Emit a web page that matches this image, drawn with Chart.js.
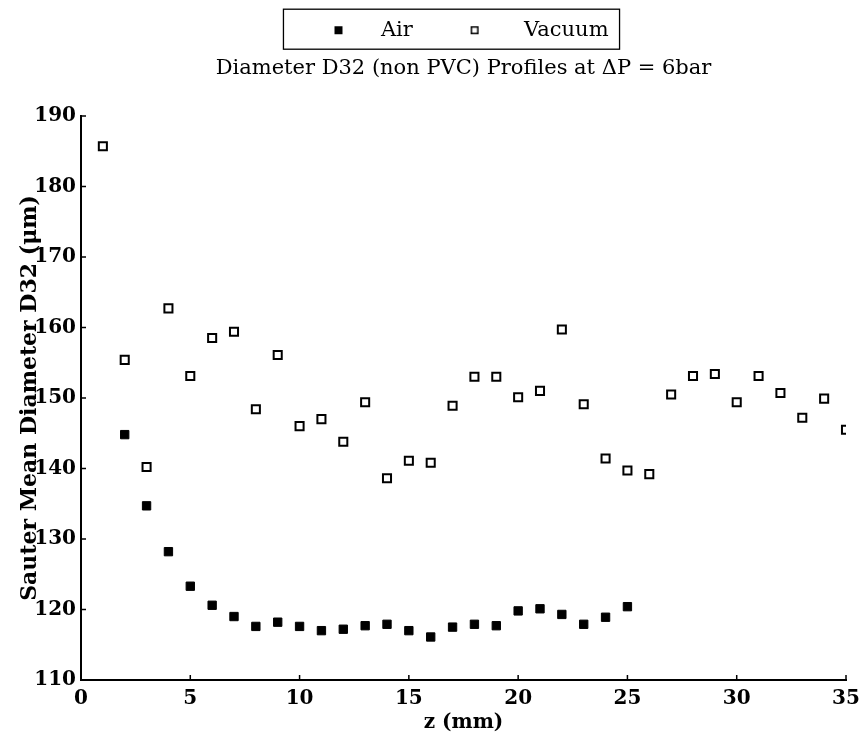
<!DOCTYPE html>
<html>
<head>
<meta charset="utf-8">
<title>Diameter D32 profiles</title>
<script src="https://cdn.jsdelivr.net/npm/chart.js@4.4.1/dist/chart.umd.min.js"></script>
<style>
    html, body { margin: 0; padding: 0; background: #fff; }
    canvas { display: block; }
</style>
</head>
<body>
<canvas id="d32Chart" width="862" height="737"></canvas>
<script>
// values
const airZ = [2, 3, 4, 5, 6, 7, 8, 9, 10, 11, 12, 13, 14, 15, 16, 17, 18, 19, 20, 21, 22, 23, 24, 25];
const airD32 = [144.8, 134.7, 128.2, 123.3, 120.6, 119.0, 117.6, 118.2, 117.6, 117.0, 117.2, 117.7,
    117.9, 117.0, 116.1, 117.5, 117.9, 117.7, 119.8, 120.1, 119.3, 117.9, 118.9, 120.4];

const vacuumZ = [1, 2, 3, 4, 5, 6, 7, 8, 9, 10, 11, 12, 13, 14, 15, 16, 17, 18, 19, 20, 21, 22, 23, 24, 25,
    26, 27, 28, 29, 30, 31, 32, 33, 34, 35];
const vacuumD32 = [185.7, 155.4, 140.2, 162.7, 153.1, 158.5, 159.4, 148.4, 156.1, 146.0, 147.0, 143.8,
    149.4, 138.6, 141.1, 140.8, 148.9, 153.0, 153.0, 150.1, 151.0, 159.7, 149.1, 141.4, 139.7, 139.2,
    150.5, 153.1, 153.4, 149.4, 153.1, 150.7, 147.2, 149.9, 145.5];

const xTicks = { min: 0, max: 35, step: 5 };
const yTicks = { min: 110, max: 190, step: 10 };

const seriesNames = ['Air', 'Vacuum'];
const titleText = 'Diameter D32 (non PVC) Profiles at \u0394P = 6bar';
const xTitle = 'z (mm)';
const yTitle = 'Sauter Mean Diameter D32 (\u03bcm)';

const serif = "'DejaVu Serif', 'Liberation Serif', serif";

function toPoints(xs, ys) {
    return xs.map((x, i) => ({ x: x, y: ys[i] }));
}

// legend markers: small squares, nudged left inside a wider canvas
function makeMarker(filled, shift) {
    const c = document.createElement('canvas');
    c.width = 40;
    c.height = 10;
    const g = c.getContext('2d');
    const left = 20 + shift - 4;
    if (filled) {
        g.fillStyle = '#000';
        g.fillRect(left, 1, 8, 8);
    } else {
        g.strokeStyle = '#000';
        g.lineWidth = 1.5;
        g.strokeRect(left + 0.75, 1.75, 6.5, 6.5);
    }
    return c;
}
const legendMarkers = [makeMarker(true, -6), makeMarker(false, -13)];

// ticks drawn inward from the axes, plus a frame round the legend
const axisExtras = {
    id: 'axisExtras',
    afterDraw(chart) {
        const ctx = chart.ctx;
        const area = chart.chartArea;
        const xs = chart.scales.x;
        const ys = chart.scales.y;
        ctx.save();
        ctx.strokeStyle = '#000';
        ctx.lineWidth = 1.5;
        ctx.beginPath();
        xs.ticks.forEach(t => {
            const px = xs.getPixelForValue(t.value);
            ctx.moveTo(px, area.bottom);
            ctx.lineTo(px, area.bottom - 5);
        });
        ys.ticks.forEach(t => {
            const py = ys.getPixelForValue(t.value);
            ctx.moveTo(area.left, py);
            ctx.lineTo(area.left + 5, py);
        });
        ctx.stroke();

        const boxes = chart.legend.legendHitBoxes;
        if (boxes && boxes.length) {
            const first = boxes[0];
            const last = boxes[boxes.length - 1];
            const midY = first.top + first.height / 2;
            const x0 = first.left - 35;
            const x1 = last.left + last.width + 11;
            ctx.lineWidth = 1.3;
            ctx.strokeRect(x0, midY - 21, x1 - x0, 40);
        }
        ctx.restore();
    }
};

const ctx = document.getElementById('d32Chart').getContext('2d');
const chart = new Chart(ctx, {
    type: 'scatter',
    data: {
        datasets: [{
            label: seriesNames[0],
            data: toPoints(airZ, airD32),
            pointStyle: 'rect',
            pointRadius: 5.9,
            borderWidth: 1,
            borderColor: '#000',
            backgroundColor: '#000'
        }, {
            label: seriesNames[1],
            data: toPoints(vacuumZ, vacuumD32),
            pointStyle: 'rect',
            pointRadius: 5.7,
            borderWidth: 2,
            borderColor: '#000',
            backgroundColor: '#fff'
        }]
    },
    options: {
        responsive: false,
        animation: false,
        devicePixelRatio: 1,
        // negative top so the wide legend padding does not push everything down
        layout: { padding: { left: 0, right: 16, top: -29, bottom: 0 } },
        plugins: {
            tooltip: { enabled: false },
            legend: {
                position: 'top',
                fullSize: false,
                weight: 3000,
                labels: {
                    color: '#000',
                    font: { family: serif, size: 21 },
                    usePointStyle: true,
                    pointStyleWidth: 52,
                    padding: 48.7,
                    generateLabels(chart) {
                        return chart.data.datasets.map((ds, i) => ({
                            text: ds.label,
                            datasetIndex: i,
                            pointStyle: legendMarkers[i],
                            fillStyle: ds.backgroundColor,
                            strokeStyle: ds.borderColor,
                            lineWidth: 0,
                            fontColor: '#000',
                            hidden: false
                        }));
                    }
                }
            },
            title: {
                display: true,
                fullSize: false,
                text: titleText,
                color: '#000',
                font: { family: serif, size: 21, weight: 'normal' },
                padding: { top: 5.6, bottom: 34.4 }
            }
        },
        scales: {
            x: {
                type: 'linear',
                min: xTicks.min,
                max: xTicks.max,
                afterFit(scale) {
                    scale.height = 57;
                    scale.paddingRight = 0;
                    scale.paddingLeft = 0;
                },
                border: { display: true, color: '#000', width: 2 },
                grid: { drawOnChartArea: false, drawTicks: false },
                ticks: {
                    stepSize: xTicks.step,
                    color: '#000',
                    padding: 7,
                    maxRotation: 0,
                    font: { family: serif, size: 20, weight: 'bold' }
                },
                title: {
                    display: true,
                    text: xTitle,
                    color: '#000',
                    font: { family: serif, size: 20, weight: 'bold' },
                    padding: { top: 0, bottom: 2 }
                }
            },
            y: {
                type: 'linear',
                min: yTicks.min,
                max: yTicks.max,
                afterFit(scale) { scale.width = 81; },
                border: { display: true, color: '#000', width: 2 },
                grid: { drawOnChartArea: false, drawTicks: false },
                ticks: {
                    stepSize: yTicks.step,
                    color: '#000',
                    padding: 5,
                    font: { family: serif, size: 20, weight: 'bold' }
                },
                title: {
                    display: true,
                    text: yTitle,
                    color: '#000',
                    font: { family: serif, size: 22, weight: 'bold' },
                    padding: { top: 17, bottom: 0 }
                }
            }
        }
    },
    plugins: [axisExtras]
});
</script>
</body>
</html>
